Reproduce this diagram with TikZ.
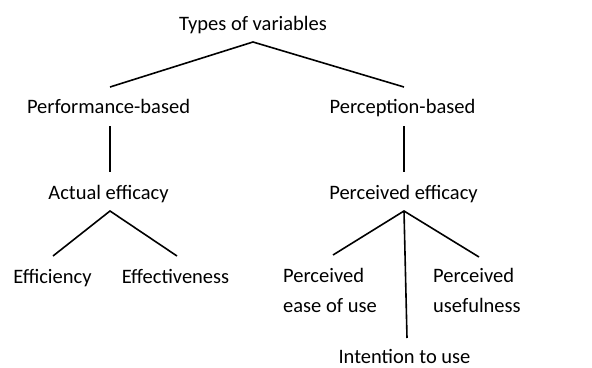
\documentclass[tikz,border=0pt]{standalone}
\usepackage{fontspec}
\setmainfont{Carlito}
\begin{document}
\begin{tikzpicture}[x=1pt,y=-1pt,
  lbl/.style={inner sep=0pt,font=\fontsize{20.5}{30}\selectfont},
  link/.style={line width=1.6pt,black}]
\useasboundingbox (0,0) rectangle (592,367);
% labels
\node[lbl,anchor=base] (types) at (253,30) {Types of variables};
\node[lbl,anchor=base] (perf) at (108.5,113) {Performance-based};
\node[lbl,anchor=base] (perc) at (402.5,113) {Perception-based};
\node[lbl,anchor=base] (actual) at (108.5,199) {Actual efficacy};
\node[lbl,anchor=base] (perceived) at (403.5,199) {Perceived efficacy};
\node[lbl,anchor=base] (effi) at (52.5,283) {Efficiency};
\node[lbl,anchor=base] (effe) at (175.5,283) {Effectiveness};
% two-line labels: the base anchor sits on the last line
\node[lbl,anchor=base west,align=left] (ease) at (283,312) {Perceived\\ease of use};
\node[lbl,anchor=base west,align=left] (useful) at (433,312) {Perceived\\usefulness};
\node[lbl,anchor=base] (intent) at (404.5,363.5) {Intention to use};
% branch points
\coordinate (typesJ) at (253,42);
\coordinate (perfJ) at (110,87);
\coordinate (percJ) at (404,87);
\coordinate (perfD) at (110,126);
\coordinate (actualU) at (110,172);
\coordinate (percD) at (404,126);
\coordinate (perceivedU) at (404,172);
\coordinate (actualJ) at (110,211);
\coordinate (effiJ) at (53,256);
\coordinate (effeJ) at (177,256);
\coordinate (perceivedJ) at (404,211);
\coordinate (easeJ) at (333,255);
\coordinate (usefulJ) at (479,257);
\coordinate (intentJ) at (407,338);
% connectors
\draw[link] (perfJ) -- (typesJ) -- (percJ);
\draw[link] (perfD) -- (actualU);
\draw[link] (percD) -- (perceivedU);
\draw[link] (effiJ) -- (actualJ) -- (effeJ);
\draw[link] (easeJ) -- (perceivedJ) -- (usefulJ);
\draw[link] (perceivedJ) -- (intentJ);
\end{tikzpicture}
\end{document}
